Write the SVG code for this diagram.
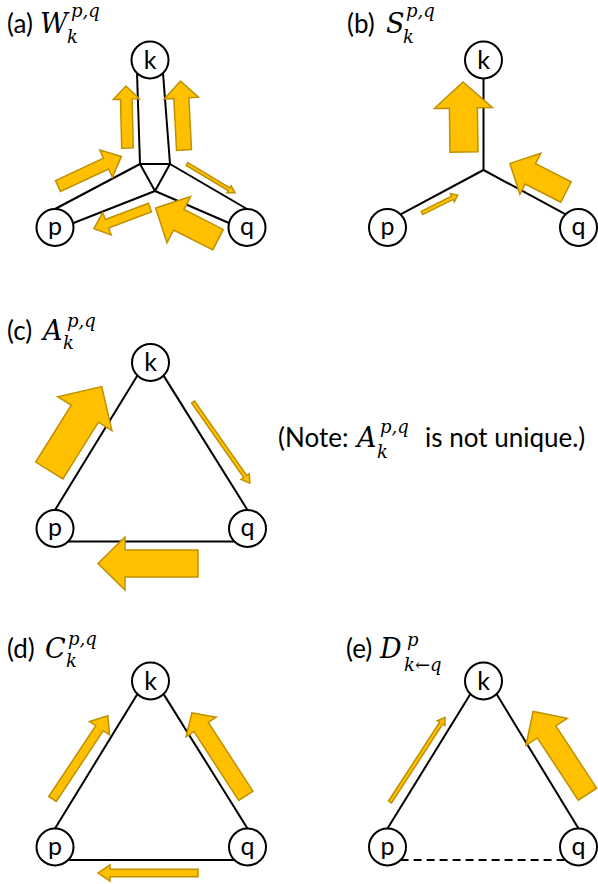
<svg xmlns="http://www.w3.org/2000/svg" width="598" height="884" viewBox="0 0 598 884">
<style>
.bg{fill:#fff}
.node circle{fill:#fff;stroke:#000;stroke-width:2}
.node text{font-family:Lato,"Open Sans",sans-serif;font-size:25px;text-anchor:middle;fill:#000}
.ln{stroke:#000;stroke-width:2;fill:none}
.dash{stroke-dasharray:8 5}
.arr{fill:#FFC000;stroke:#BF9000;stroke-width:1.5;stroke-linejoin:miter}
.lbl{font-family:Lato,"Open Sans",sans-serif;font-size:26px;fill:#000}
.m{font-family:"DejaVu Serif","Liberation Serif",serif;font-style:italic;fill:#000}
.mb{font-size:27px}
.ms{font-size:18px}
</style>
<rect class="bg" x="0" y="0" width="598" height="884"/>

<g id="connectors">
  <!-- (a) -->
  <line class="ln" x1="137" y1="73" x2="140" y2="164"/>
  <line class="ln" x1="163" y1="73" x2="170" y2="164"/>
  <line class="ln" x1="140" y1="164" x2="170" y2="164"/>
  <line class="ln" x1="140" y1="164" x2="155" y2="191"/>
  <line class="ln" x1="170" y1="164" x2="155" y2="191"/>
  <line class="ln" x1="140" y1="164" x2="55" y2="209"/>
  <line class="ln" x1="155" y1="191" x2="73.5" y2="223"/>
  <line class="ln" x1="155" y1="191" x2="229" y2="223"/>
  <line class="ln" x1="170" y1="164" x2="247" y2="209"/>
  <!-- (b) -->
  <line class="ln" x1="483.5" y1="78.5" x2="483.5" y2="170"/>
  <line class="ln" x1="483.5" y1="170" x2="400.6" y2="214.4"/>
  <line class="ln" x1="483.5" y1="170" x2="565.7" y2="214.4"/>
  <!-- (c) -->
  <line class="ln" x1="137.4" y1="375.6" x2="55" y2="510"/>
  <line class="ln" x1="163.6" y1="375.6" x2="247.5" y2="510"/>
  <line class="ln" x1="68.1" y1="541.6" x2="234.4" y2="541.6"/>
  <!-- (d) -->
  <line class="ln" x1="137.4" y1="694.1" x2="55" y2="828.5"/>
  <line class="ln" x1="163.6" y1="694.1" x2="247.5" y2="828.5"/>
  <line class="ln" x1="68.1" y1="860.1" x2="234.4" y2="860.1"/>
  <!-- (e) -->
  <line class="ln" x1="470.4" y1="694.1" x2="387.5" y2="828.5"/>
  <line class="ln" x1="496.6" y1="694.1" x2="578.5" y2="828.5"/>
  <line class="ln dash" x1="400.6" y1="860.1" x2="565.4" y2="860.1"/>
</g>

<g id="flow-arrows">
  <!-- (a) -->
  <polygon class="arr" transform="translate(127.5,148) rotate(-91.4)" points="0,-5.8 49,-5.8 49,-13 62,0 49,13 49,5.8 0,5.8"/>
  <polygon class="arr" transform="translate(184,150) rotate(-92.9)" points="0,-7.5 52,-7.5 52,-17 69,0 52,17 52,7.5 0,7.5"/>
  <polygon class="arr" transform="translate(58,186) rotate(-25)" points="0,-6 53,-6 53,-15 70,0 53,15 53,6 0,6"/>
  <polygon class="arr" transform="translate(187,164) rotate(31)" points="0,-1.6 49,-1.6 49,-4 56,0 49,4 49,1.6 0,1.6"/>
  <polygon class="arr" transform="translate(150,207.5) rotate(159.3)" points="0,-4.5 46,-4.5 46,-12 60,0 46,12 46,4.5 0,4.5"/>
  <polygon class="arr" transform="translate(218,239.7) rotate(-153)" points="0,-11.5 44,-11.5 44,-26 70,0 44,26 44,11.5 0,11.5"/>
  <!-- (b) -->
  <polygon class="arr" transform="translate(464,152) rotate(-90.8)" points="0,-14 44,-14 44,-29 70,0 44,29 44,14 0,14"/>
  <polygon class="arr" transform="translate(566,192) rotate(-153)" points="0,-11.5 40,-11.5 40,-23 63,0 40,23 40,11.5 0,11.5"/>
  <polygon class="arr" transform="translate(422,213) rotate(-26.6)" points="0,-1.8 34,-1.8 34,-4.5 40,0 34,4.5 34,1.8 0,1.8"/>
  <!-- (c) -->
  <polygon class="arr" transform="translate(49.3,470.5) rotate(-58)" points="0,-16 67,-16 67,-32 99,0 67,32 67,16 0,16"/>
  <polygon class="arr" transform="translate(193,402) rotate(55)" points="0,-1.8 91,-1.8 91,-5 99,0 91,5 91,1.8 0,1.8"/>
  <polygon class="arr" transform="translate(198,563.5) rotate(180)" points="0,-13.5 73,-13.5 73,-26.5 100,0 73,26.5 73,13.5 0,13.5"/>
  <!-- (d) -->
  <polygon class="arr" transform="translate(52.5,799) rotate(-56.4)" points="0,-4.5 85,-4.5 85,-12 100,0 85,12 85,4.5 0,4.5"/>
  <polygon class="arr" transform="translate(245.8,795.8) rotate(-123)" points="0,-8.5 82,-8.5 82,-18 99,0 82,18 82,8.5 0,8.5"/>
  <polygon class="arr" transform="translate(198,873) rotate(180)" points="0,-3.7 88,-3.7 88,-8 100,0 88,8 88,3.7 0,3.7"/>
  <!-- (e) -->
  <polygon class="arr" transform="translate(390,802) rotate(-57)" points="0,-1.8 94,-1.8 94,-4.5 101,0 94,4.5 94,1.8 0,1.8"/>
  <polygon class="arr" transform="translate(587.5,794.2) rotate(-123.3)" points="0,-11 74.5,-11 74.5,-24.7 99,0 74.5,24.7 74.5,11 0,11"/>
</g>

<!-- nodes (a) -->
<g id="a-k" class="node"><circle cx="150" cy="60" r="18.5"/><text x="150" y="68.5">k</text></g>
<g id="a-p" class="node"><circle cx="55" cy="227.5" r="18.5"/><text x="55" y="235">p</text></g>
<g id="a-q" class="node"><circle cx="247" cy="227.5" r="18.5"/><text x="247" y="235">q</text></g>
<!-- nodes (b) -->
<g id="b-k" class="node"><circle cx="483.5" cy="60" r="18.5"/><text x="483.5" y="68.5">k</text></g>
<g id="b-p" class="node"><circle cx="387.5" cy="227.5" r="18.5"/><text x="387.5" y="235">p</text></g>
<g id="b-q" class="node"><circle cx="578.5" cy="227.5" r="18.5"/><text x="578.5" y="235">q</text></g>
<!-- nodes (c) -->
<g id="c-k" class="node"><circle cx="150.5" cy="362.5" r="18.5"/><text x="150.5" y="371">k</text></g>
<g id="c-p" class="node"><circle cx="55" cy="528.5" r="18.5"/><text x="55" y="536">p</text></g>
<g id="c-q" class="node"><circle cx="247.5" cy="528.5" r="18.5"/><text x="247.5" y="536">q</text></g>
<!-- nodes (d) -->
<g id="d-k" class="node"><circle cx="150.5" cy="681" r="18.5"/><text x="150.5" y="689.5">k</text></g>
<g id="d-p" class="node"><circle cx="55" cy="847" r="18.5"/><text x="55" y="854.5">p</text></g>
<g id="d-q" class="node"><circle cx="247.5" cy="847" r="18.5"/><text x="247.5" y="854.5">q</text></g>
<!-- nodes (e) -->
<g id="e-k" class="node"><circle cx="483.5" cy="681" r="18.5"/><text x="483.5" y="689.5">k</text></g>
<g id="e-p" class="node"><circle cx="387.5" cy="847" r="18.5"/><text x="387.5" y="854.5">p</text></g>
<g id="e-q" class="node"><circle cx="578.5" cy="847" r="18.5"/><text x="578.5" y="854.5">q</text></g>

<!-- titles -->
<g id="title-a">
  <text class="lbl" x="7" y="33">(a)</text>
  <text class="m mb" x="40" y="33">W</text>
  <text class="m ms" x="71" y="17">p,q</text>
  <text class="m ms" x="67" y="43">k</text>
</g>
<g id="title-b">
  <text class="lbl" x="347" y="33">(b)</text>
  <text class="m mb" x="386" y="33">S</text>
  <text class="m ms" x="406" y="17">p,q</text>
  <text class="m ms" x="403" y="43">k</text>
</g>
<g id="title-c">
  <text class="lbl" x="7" y="340">(c)</text>
  <text class="m mb" x="43" y="340">A</text>
  <text class="m ms" x="67" y="327">p,q</text>
  <text class="m ms" x="63" y="349">k</text>
</g>
<g id="title-d">
  <text class="lbl" x="7" y="658">(d)</text>
  <text class="m mb" x="45" y="658">C</text>
  <text class="m ms" x="68" y="645">p,q</text>
  <text class="m ms" x="66" y="667">k</text>
</g>
<g id="title-e">
  <text class="lbl" x="346" y="658">(e)</text>
  <text class="m mb" x="380" y="658">D</text>
  <text class="m ms" x="407" y="646">p</text>
  <text class="m ms" x="404" y="671">k←q</text>
</g>
<g id="note">
  <text class="lbl" x="278" y="447">(Note:</text>
  <text class="m mb" x="357" y="447">A</text>
  <text class="m ms" x="380" y="433">p,q</text>
  <text class="m ms" x="377" y="458">k</text>
  <text class="lbl" x="425" y="447">is not unique.)</text>
</g>
</svg>
